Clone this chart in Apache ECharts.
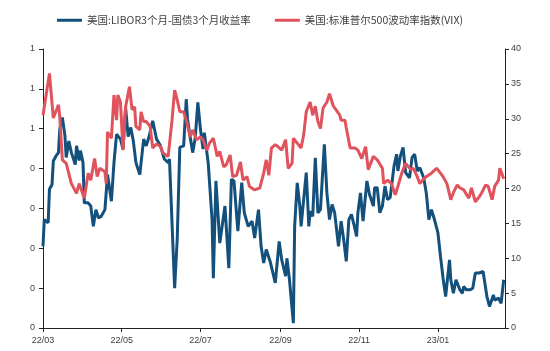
<!DOCTYPE html>
<html>
<head>
<meta charset="utf-8">
<script src="https://cdn.jsdelivr.net/npm/echarts@6/dist/echarts.min.js"></script>
<style>
  html, body { margin: 0; padding: 0; background: #fff; }
  #chart { width: 550px; height: 351px; }
</style>
</head>
<body>
<div id="chart"></div>
<script>
// 系列名称
const seriesNames = ['美国:LIBOR3个月-国债3个月收益率', '美国:标准普尔500波动率指数(VIX)'];

// x轴刻度
const xTickDates = ['2022-03-01', '2022-05-01', '2022-07-01', '2022-09-01', '2022-11-01', '2023-01-01'];
const xTickLabels = ['22/03', '22/05', '22/07', '22/09', '22/11', '23/01'];

// LIBOR-OIS 利差 (左轴)
const spreadDates = [
  '2022-03-01', '2022-03-02', '2022-03-05', '2022-03-06', '2022-03-08', '2022-03-09', '2022-03-11', '2022-03-13', '2022-03-14', '2022-03-16',
  '2022-03-18', '2022-03-19', '2022-03-21', '2022-03-23', '2022-03-26', '2022-03-27', '2022-03-29', '2022-03-30', '2022-04-01', '2022-04-02',
  '2022-04-05', '2022-04-07', '2022-04-09', '2022-04-11', '2022-04-13', '2022-04-15', '2022-04-18', '2022-04-20', '2022-04-23', '2022-04-25',
  '2022-04-27', '2022-04-30', '2022-05-02', '2022-05-04', '2022-05-06', '2022-05-08', '2022-05-10', '2022-05-12', '2022-05-15', '2022-05-18',
  '2022-05-20', '2022-05-22', '2022-05-25', '2022-05-28', '2022-05-31', '2022-06-03', '2022-06-06', '2022-06-07', '2022-06-11', '2022-06-13',
  '2022-06-15', '2022-06-18', '2022-06-20', '2022-06-21', '2022-06-23', '2022-06-25', '2022-06-27', '2022-06-29', '2022-07-01', '2022-07-03',
  '2022-07-04', '2022-07-07', '2022-07-10', '2022-07-11', '2022-07-13', '2022-07-16', '2022-07-17', '2022-07-20', '2022-07-23', '2022-07-25',
  '2022-07-27', '2022-07-30', '2022-08-02', '2022-08-04', '2022-08-07', '2022-08-10', '2022-08-12', '2022-08-15', '2022-08-17', '2022-08-19',
  '2022-08-21', '2022-08-24', '2022-08-28', '2022-08-31', '2022-09-02', '2022-09-05', '2022-09-06',
  '2022-09-08', '2022-09-11', '2022-09-12', '2022-09-14', '2022-09-16', '2022-09-17', '2022-09-21', '2022-09-23', '2022-09-24', '2022-09-26',
  '2022-09-28', '2022-09-30', '2022-10-02', '2022-10-05', '2022-10-07', '2022-10-09', '2022-10-11', '2022-10-13', '2022-10-16', '2022-10-18',
  '2022-10-20', '2022-10-22', '2022-10-24', '2022-10-26', '2022-10-28', '2022-10-30', '2022-10-31', '2022-11-02', '2022-11-04', '2022-11-07',
  '2022-11-09', '2022-11-12', '2022-11-13', '2022-11-15', '2022-11-17', '2022-11-19', '2022-11-21', '2022-11-23', '2022-11-25', '2022-11-28',
  '2022-11-30', '2022-12-01', '2022-12-03', '2022-12-05', '2022-12-07', '2022-12-10', '2022-12-12', '2022-12-14', '2022-12-16', '2022-12-18',
  '2022-12-21', '2022-12-23', '2022-12-25', '2022-12-27', '2022-12-29', '2023-01-01', '2023-01-03', '2023-01-05', '2023-01-07', '2023-01-10',
  '2023-01-11', '2023-01-13', '2023-01-15', '2023-01-18', '2023-01-20', '2023-01-21', '2023-01-23', '2023-01-26', '2023-01-28', '2023-01-30',
  '2023-02-02', '2023-02-05', '2023-02-08', '2023-02-10', '2023-02-13', '2023-02-14', '2023-02-17', '2023-02-19', '2023-02-21'
];
const spreadValues = [
  0.205, 0.272, 0.264, 0.348, 0.36, 0.419, 0.431, 0.44, 0.499, 0.528,
  0.482, 0.428, 0.469, 0.44, 0.41, 0.457, 0.42, 0.445, 0.415, 0.314,
  0.314, 0.306, 0.255, 0.297, 0.276, 0.28, 0.297, 0.385, 0.318, 0.415,
  0.486, 0.474, 0.449, 0.553, 0.48, 0.503, 0.469, 0.415, 0.385, 0.474,
  0.457, 0.478, 0.52, 0.474, 0.457, 0.424, 0.415, 0.424, 0.1, 0.222,
  0.453, 0.457, 0.574, 0.524, 0.48, 0.44, 0.478, 0.566, 0.499, 0.449,
  0.49, 0.415, 0.272, 0.125, 0.369, 0.213, 0.217, 0.306, 0.15, 0.373,
  0.369, 0.243, 0.365, 0.289, 0.255, 0.268, 0.226, 0.297, 0.205, 0.163,
  0.197, 0.167, 0.113, 0.217, 0.171, 0.13, 0.175,
  0.121, 0.012, 0.255, 0.364, 0.306, 0.255, 0.39, 0.255, 0.293, 0.28,
  0.427, 0.289, 0.297, 0.461, 0.339, 0.272, 0.31, 0.289, 0.205, 0.268,
  0.222, 0.167, 0.272, 0.285, 0.259, 0.23, 0.289, 0.339, 0.268, 0.369,
  0.335, 0.306, 0.352, 0.352, 0.289, 0.306, 0.356, 0.322, 0.327, 0.406,
  0.436, 0.394, 0.432, 0.453, 0.39, 0.377, 0.428, 0.436, 0.394, 0.402,
  0.377, 0.339, 0.272, 0.297, 0.276, 0.239, 0.18, 0.125, 0.079, 0.171,
  0.121, 0.087, 0.121, 0.096, 0.087, 0.104, 0.096, 0.096, 0.1, 0.138,
  0.138, 0.142, 0.079, 0.054, 0.083, 0.07, 0.075, 0.062, 0.121
];

// VIX (右轴)
const vixDates = [
  '2022-03-01', '2022-03-06', '2022-03-09', '2022-03-13', '2022-03-14', '2022-03-16', '2022-03-19', '2022-03-23', '2022-03-27', '2022-03-29',
  '2022-04-02', '2022-04-05', '2022-04-07', '2022-04-10', '2022-04-12', '2022-04-14', '2022-04-18', '2022-04-19', '2022-04-20', '2022-04-23',
  '2022-04-25', '2022-04-27', '2022-04-28', '2022-04-30', '2022-05-02', '2022-05-04', '2022-05-07', '2022-05-09', '2022-05-11', '2022-05-12',
  '2022-05-15', '2022-05-16', '2022-05-18', '2022-05-20', '2022-05-23', '2022-05-25', '2022-05-28', '2022-05-31', '2022-06-02', '2022-06-06',
  '2022-06-09', '2022-06-11', '2022-06-13', '2022-06-15', '2022-06-18', '2022-06-20', '2022-06-23', '2022-06-25', '2022-06-28', '2022-07-01',
  '2022-07-03', '2022-07-06', '2022-07-08', '2022-07-11', '2022-07-14', '2022-07-16', '2022-07-19', '2022-07-21', '2022-07-24', '2022-07-26',
  '2022-07-29', '2022-08-01', '2022-08-03', '2022-08-06', '2022-08-08', '2022-08-12', '2022-08-16', '2022-08-19', '2022-08-21', '2022-08-23',
  '2022-08-25', '2022-08-28', '2022-08-30', '2022-09-02', '2022-09-05', '2022-09-07',
  '2022-09-10', '2022-09-11', '2022-09-14', '2022-09-17', '2022-09-19', '2022-09-21', '2022-09-24', '2022-09-26', '2022-09-28', '2022-09-30',
  '2022-10-02', '2022-10-04', '2022-10-07', '2022-10-09', '2022-10-12', '2022-10-14', '2022-10-17', '2022-10-18', '2022-10-21', '2022-10-22',
  '2022-10-25', '2022-10-29', '2022-10-31', '2022-11-03', '2022-11-06', '2022-11-08', '2022-11-12', '2022-11-15', '2022-11-19', '2022-11-20',
  '2022-11-23', '2022-11-26', '2022-11-29', '2022-12-01', '2022-12-04', '2022-12-07', '2022-12-11', '2022-12-13', '2022-12-16', '2022-12-18',
  '2022-12-21', '2022-12-23', '2022-12-27', '2022-12-31', '2023-01-03', '2023-01-05', '2023-01-08', '2023-01-11', '2023-01-13', '2023-01-16',
  '2023-01-18', '2023-01-21', '2023-01-25', '2023-01-27', '2023-01-30', '2023-02-02', '2023-02-04', '2023-02-07', '2023-02-09', '2023-02-12',
  '2023-02-14', '2023-02-17', '2023-02-18', '2023-02-20', '2023-02-21'
];
const vixValues = [
  30.5, 36.5, 30.1, 32, 30.3, 24.1, 23.6, 20.7, 19.3, 20.7,
  18.6, 22.2, 21.2, 24.3, 21.7, 22.9, 22.4, 20.7, 28.1, 27.2,
  33.4, 29.8, 33.4, 32.4, 25.5, 31.7, 34.6, 31.3, 31.7, 28.9,
  28.4, 31, 29.6, 29.6, 28.9, 25.8, 26.4, 26, 25.1, 24.6,
  29.8, 34.1, 32.7, 31, 31, 29.8, 27.4, 28.4, 27, 27.4,
  27, 25.5, 26.5, 27.2, 24.6, 25.3, 23.1, 23.4, 24.8, 21.7,
  21.9, 23.8, 21.2, 21.7, 20.3, 19.8, 20.1, 22.2, 24.1, 21.9,
  25.8, 26.3, 26, 25.5, 27, 22.9,
  23.6, 27.2, 26.5, 25.8, 27.7, 31, 32.4, 30.5, 31.8, 29.6,
  28.6, 31.5, 32.4, 33.6, 31.8, 31.3, 30.5, 29.8, 29.8, 28.7,
  25.8, 25.8, 25.5, 24.3, 26, 22.7, 24.6, 24.1, 22.9, 20.7,
  21.2, 20.7, 19.1, 20.3, 22.2, 23.6, 22.7, 22.9, 21.7, 20.7,
  21.4, 21.7, 22.2, 22.9, 22.2, 21.7, 20.7, 18.4, 19.4, 20.5,
  20.1, 19.8, 18.6, 20.1, 18.1, 18.8, 19.4, 20.5, 20.3, 18.4,
  20.3, 21.2, 22.9, 21.9, 21.4
];

// 日期字符串 -> 时间戳 (UTC)
const toTime = d => Date.parse(d + 'T00:00:00Z');
const xTickTimes = xTickDates.map(toTime);

const chart = echarts.init(document.getElementById('chart'));

const axisLineStyle = { color: '#222', width: 1 };
const labelStyle = { fontFamily: 'Liberation Sans', fontSize: 9, color: '#404040' };

chart.setOption({
  animation: false,
  legend: {
    top: 10,
    left: 52,
    itemWidth: 25,
    itemHeight: 3,
    itemGap: 24,
    icon: 'rect',
    textStyle: { fontFamily: 'Noto Sans CJK SC', fontSize: 10.5, color: '#404040' },
    data: seriesNames
  },
  grid: {
    left: 43,
    right: 45,
    top: 49,
    bottom: 23
  },
  xAxis: {
    type: 'value',
    min: toTime('2022-03-01'),
    max: toTime('2023-02-22'),
    axisLine: { lineStyle: axisLineStyle },
    axisTick: { length: 4, lineStyle: axisLineStyle, customValues: xTickTimes },
    splitLine: { show: false },
    axisLabel: Object.assign({}, labelStyle, {
      margin: 8,
      customValues: xTickTimes,
      formatter: function (v) {
        const i = xTickTimes.indexOf(v);
        return i >= 0 ? xTickLabels[i] : '';
      }
    })
  },
  yAxis: [
    {
      type: 'value',
      min: 0,
      max: 0.7,
      interval: 0.1,
      axisLine: { show: true, lineStyle: axisLineStyle },
      axisTick: { show: true, length: 4, lineStyle: axisLineStyle },
      splitLine: { show: false },
      axisLabel: Object.assign({}, labelStyle, {
        margin: 8,
        formatter: function (v) { return String(Math.round(v)); }
      })
    },
    {
      type: 'value',
      min: 0,
      max: 40,
      interval: 5,
      position: 'right',
      axisLine: { show: true, lineStyle: axisLineStyle },
      axisTick: { show: true, length: 4, lineStyle: axisLineStyle },
      splitLine: { show: false },
      axisLabel: Object.assign({}, labelStyle, { margin: 6 })
    }
  ],
  series: [
    {
      name: seriesNames[0],
      type: 'line',
      yAxisIndex: 0,
      showSymbol: false,
      symbol: 'none',
      lineStyle: { width: 3, color: '#14507c' },
      itemStyle: { color: '#14507c' },
      data: spreadDates.map((d, i) => [toTime(d), spreadValues[i]])
    },
    {
      name: seriesNames[1],
      type: 'line',
      yAxisIndex: 1,
      showSymbol: false,
      symbol: 'none',
      lineStyle: { width: 3, color: '#e0535d' },
      itemStyle: { color: '#e0535d' },
      data: vixDates.map((d, i) => [toTime(d), vixValues[i]])
    }
  ]
});
</script>
</body>
</html>
